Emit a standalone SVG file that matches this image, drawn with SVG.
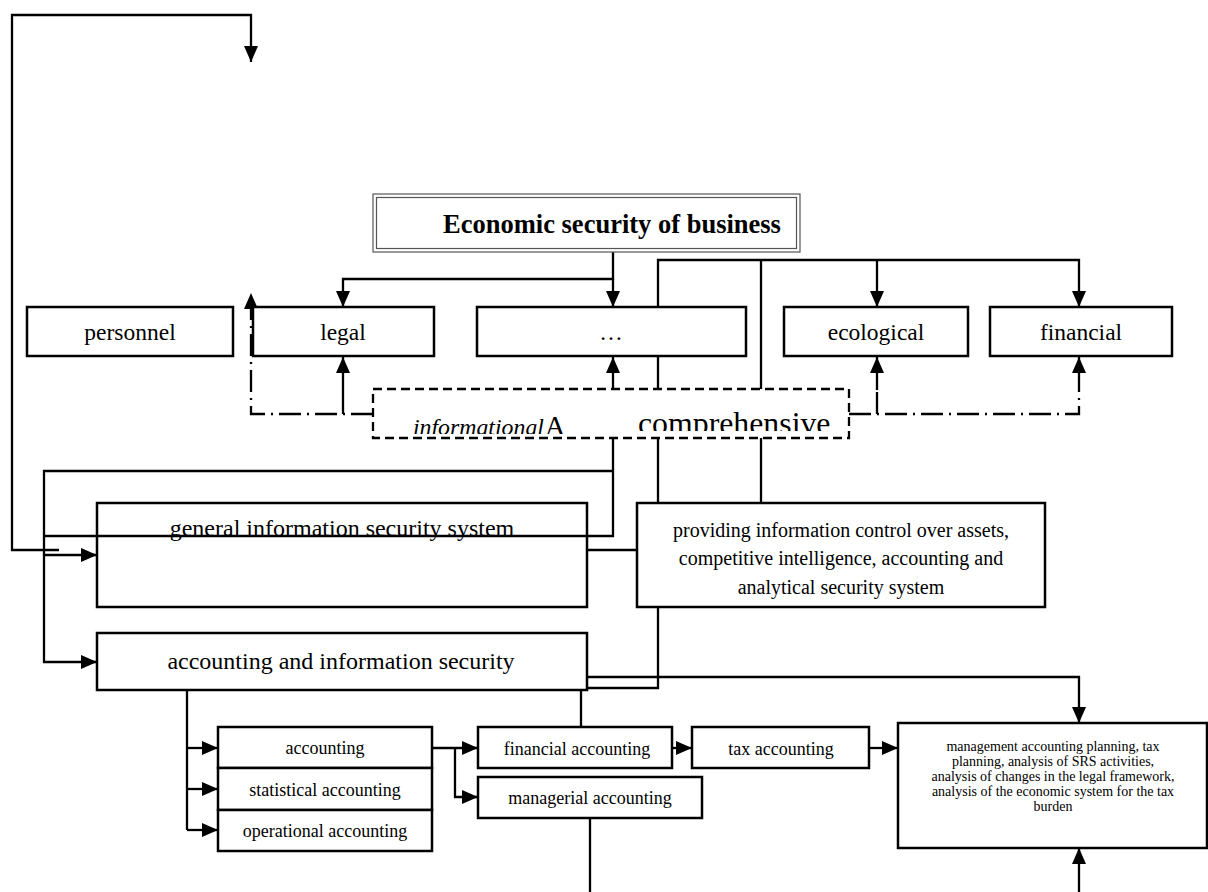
<svg xmlns="http://www.w3.org/2000/svg" width="1208" height="892" viewBox="0 0 1208 892">
<style>
.box{fill:#fff;stroke:#000;stroke-width:2.5}
.ln{fill:none;stroke:#000;stroke-width:2.3}
.dd{fill:none;stroke:#000;stroke-width:2.3;stroke-dasharray:22 6 2 6}
.dash{fill:none;stroke:#000;stroke-width:2.3;stroke-dasharray:9 5}
.t{font-family:"Liberation Serif","Times New Roman",serif;fill:#000;text-anchor:middle}
.l{font-size:23.5px}
.m{font-size:24px}
.p{font-size:20px}
.s{font-size:18px}
.x{font-size:14px}
</style>
<defs>
<marker id="ah" markerUnits="userSpaceOnUse" markerWidth="16" markerHeight="14" refX="16" refY="7" orient="auto">
<path d="M0,0 L16,7 L0,14 z" fill="#000"/>
</marker>
<clipPath id="clipA"><rect x="373" y="389" width="250" height="45"/></clipPath>
<clipPath id="clipB"><rect x="623" y="389" width="226" height="42"/></clipPath>
</defs>

<g id="connectors">
<path class="ln" d="M59,550 H12 V15 H251 V62" marker-end="url(#ah)"/>
<path class="ln" d="M44,555 H97" marker-end="url(#ah)"/>
<path class="ln" d="M613,252 V279 H343 V307" marker-end="url(#ah)"/>
<path class="ln" d="M613,279 V307" marker-end="url(#ah)"/>
<path class="ln" d="M658,389 V260 H1079 V307" marker-end="url(#ah)"/>
<path class="ln" d="M877,260 V307" marker-end="url(#ah)"/>
<path class="ln" d="M761,260 V389"/>
<path class="ln" d="M343,393 V357" marker-end="url(#ah)"/>
<path class="ln" d="M613,389 V357" marker-end="url(#ah)"/>
<path class="ln" d="M877,390 V357" marker-end="url(#ah)"/>
<path class="ln" d="M1079,390 V357" marker-end="url(#ah)"/>
<path class="dd" d="M373,414 H251 V293" marker-end="url(#ah)"/>
<path class="dd" d="M343,414 V393"/>
<path class="dd" d="M849,414 H1079 V390"/>
<path class="dd" d="M877,414 V390"/>
<path class="ln" d="M613,438 V536 H44"/>
<path class="ln" d="M613,471 H44 V662 H97" marker-end="url(#ah)"/>
<path class="ln" d="M658,438 V503"/>
<path class="ln" d="M761,438 V503"/>
<path class="ln" d="M587,550 H637"/>
<path class="ln" d="M658,607 V688 H581"/>
<path class="ln" d="M581,727 V677 H1079 V723" marker-end="url(#ah)"/>
<path class="ln" d="M187,690 V830"/>
<path class="ln" d="M187,748 H218" marker-end="url(#ah)"/>
<path class="ln" d="M187,789 H218" marker-end="url(#ah)"/>
<path class="ln" d="M187,830 H218" marker-end="url(#ah)"/>
<path class="ln" d="M432,748 H478" marker-end="url(#ah)"/>
<path class="ln" d="M455,748 V797 H478" marker-end="url(#ah)"/>
<path class="ln" d="M672,748 H692" marker-end="url(#ah)"/>
<path class="ln" d="M869,748 H898" marker-end="url(#ah)"/>
<path class="ln" d="M590,818 V892"/>
<path class="ln" d="M1079,892 V848" marker-end="url(#ah)"/>
</g>

<g id="economic-security">
<rect x="373" y="194" width="427" height="58" fill="#fff" stroke="#555" stroke-width="1.2"/>
<rect x="376.5" y="197.5" width="420" height="51" fill="none" stroke="#555" stroke-width="1.2"/>
<text class="t" x="612" y="233" font-size="26.5px" font-weight="bold">Economic security of business</text>
</g>

<g id="personnel"><rect class="box" x="27" y="307" width="206" height="49"/><text class="t l" x="130" y="340">personnel</text></g>
<g id="legal"><rect class="box" x="253" y="307" width="181" height="49"/><text class="t l" x="343" y="340">legal</text></g>
<g id="ellipsis"><rect class="box" x="477" y="307" width="269" height="49"/><text class="t l" x="611" y="340">…</text></g>
<g id="ecological"><rect class="box" x="784" y="307" width="184" height="49"/><text class="t l" x="876" y="340">ecological</text></g>
<g id="financial"><rect class="box" x="990" y="307" width="182" height="49"/><text class="t l" x="1081" y="340">financial</text></g>

<g id="informational-comprehensive">
<rect x="373" y="389" width="476" height="49" class="dash"/>
<g clip-path="url(#clipA)">
<text class="t" x="413" y="435" style="text-anchor:start;font-size:23.8px;font-style:italic">informational</text>
<text class="t" x="545" y="435" style="text-anchor:start;font-size:28px">A</text>
</g>
<g clip-path="url(#clipB)">
<text class="t" x="638" y="434" style="text-anchor:start;font-size:31.8px">comprehensive</text>
</g>
</g>

<g id="general-info"><rect class="box" x="97" y="503" width="490" height="104" style="fill:none"/><text class="t m" x="342" y="536">general information security system</text></g>
<g id="providing">
<rect class="box" x="637" y="503" width="408" height="104"/>
<text class="t p" x="841" y="537">providing information control over assets,</text>
<text class="t p" x="841" y="565">competitive intelligence, accounting and</text>
<text class="t p" x="841" y="594">analytical security system</text>
</g>
<g id="accounting-info"><rect class="box" x="97" y="633" width="490" height="57"/><text class="t m" x="341" y="669">accounting and information security</text></g>

<g id="accounting"><rect class="box" x="218" y="727" width="214" height="41"/><text class="t s" x="325" y="754">accounting</text></g>
<g id="statistical"><rect class="box" x="218" y="768" width="214" height="42"/><text class="t s" x="325" y="796">statistical accounting</text></g>
<g id="operational"><rect class="box" x="218" y="810" width="214" height="41"/><text class="t s" x="325" y="837">operational accounting</text></g>
<g id="financial-accounting"><rect class="box" x="478" y="727" width="194" height="41"/><text class="t s" x="577" y="755">financial accounting</text></g>
<g id="managerial"><rect class="box" x="478" y="777" width="224" height="41"/><text class="t s" x="590" y="804">managerial accounting</text></g>
<g id="tax"><rect class="box" x="692" y="727" width="177" height="41"/><text class="t s" x="781" y="755">tax accounting</text></g>
<g id="management-planning">
<rect class="box" x="898" y="723" width="309" height="125"/>
<text class="t x" x="1053" y="751">management accounting planning, tax</text>
<text class="t x" x="1053" y="766">planning, analysis of SRS activities,</text>
<text class="t x" x="1053" y="781">analysis of changes in the legal framework,</text>
<text class="t x" x="1053" y="796">analysis of the economic system for the tax</text>
<text class="t x" x="1053" y="811">burden</text>
</g>
</svg>
